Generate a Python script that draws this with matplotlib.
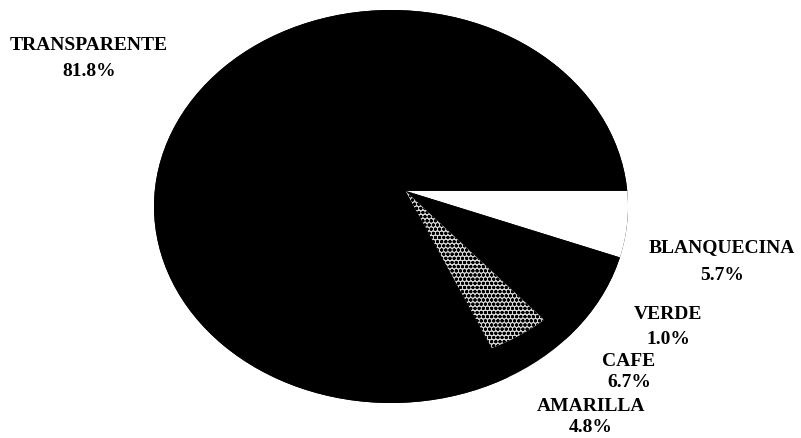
import matplotlib
matplotlib.use('Agg')

import matplotlib.pyplot as plt
from matplotlib.patches import Ellipse

# pie data (percent)
labels = ['BLANQUECINA', 'VERDE', 'CAFE', 'AMARILLA', 'TRANSPARENTE']
values = [5.7, 1.0, 6.7, 4.8, 81.8]
pct_text = ['5.7%', '1.0%', '6.7%', '4.8%', '81.8%']
colors = ['white', 'black', 'black', 'white', 'black']

# label positions in pixels (x center, y of name line, y of pct line)
label_x = [722, 668, 629, 591, 89]
label_y1 = [248, 315, 362, 407, 45]
label_y2 = [276, 340, 383, 428, 72]

W, H = 801, 439
fig = plt.figure(figsize=(W / 100, H / 100), dpi=100)

# axes placed over the ellipse of the scanned pie
ex0, ex1, ey0, ey1 = 154, 628, 11, 404
ax = fig.add_axes([ex0 / W, 1 - ey1 / H, (ex1 - ex0) / W, (ey1 - ey0) / H])

ell = Ellipse((0, 0), 2, 2, facecolor='black', edgecolor='none')
ax.add_patch(ell)

wedges, _ = ax.pie(values, colors=colors, startangle=0, counterclock=False,
                   center=(0.06, 0.08), radius=1.3, frame=True,
                   wedgeprops=dict(linewidth=0))

# speckled wedge (amarilla) is shorter and dotted
amar = wedges[3]
amar.set_radius(0.88)
amar.set_facecolor('#d8d8d8')
amar.set_hatch('oooo')
amar.set_edgecolor('black')

ax.set_xlim(-1, 1)
ax.set_ylim(-1, 1)
ax.set_aspect('auto')
ax.axis('off')

for w in wedges:
    w.set_clip_on(True)
    w.set_clip_path(ell)

# labels in figure pixel coords
tax = fig.add_axes([0, 0, 1, 1])
tax.set_xlim(0, W)
tax.set_ylim(H, 0)
tax.axis('off')
tax.patch.set_alpha(0)
for name, pct, x, y1, y2 in zip(labels, pct_text, label_x, label_y1, label_y2):
    tax.text(x, y1, name, ha='center', va='center', fontsize=14,
             family='Liberation Serif', fontweight='bold')
    tax.text(x, y2, pct, ha='center', va='center', fontsize=14,
             family='Liberation Serif', fontweight='bold')

fig.savefig('out.png', dpi=100, facecolor='white')
